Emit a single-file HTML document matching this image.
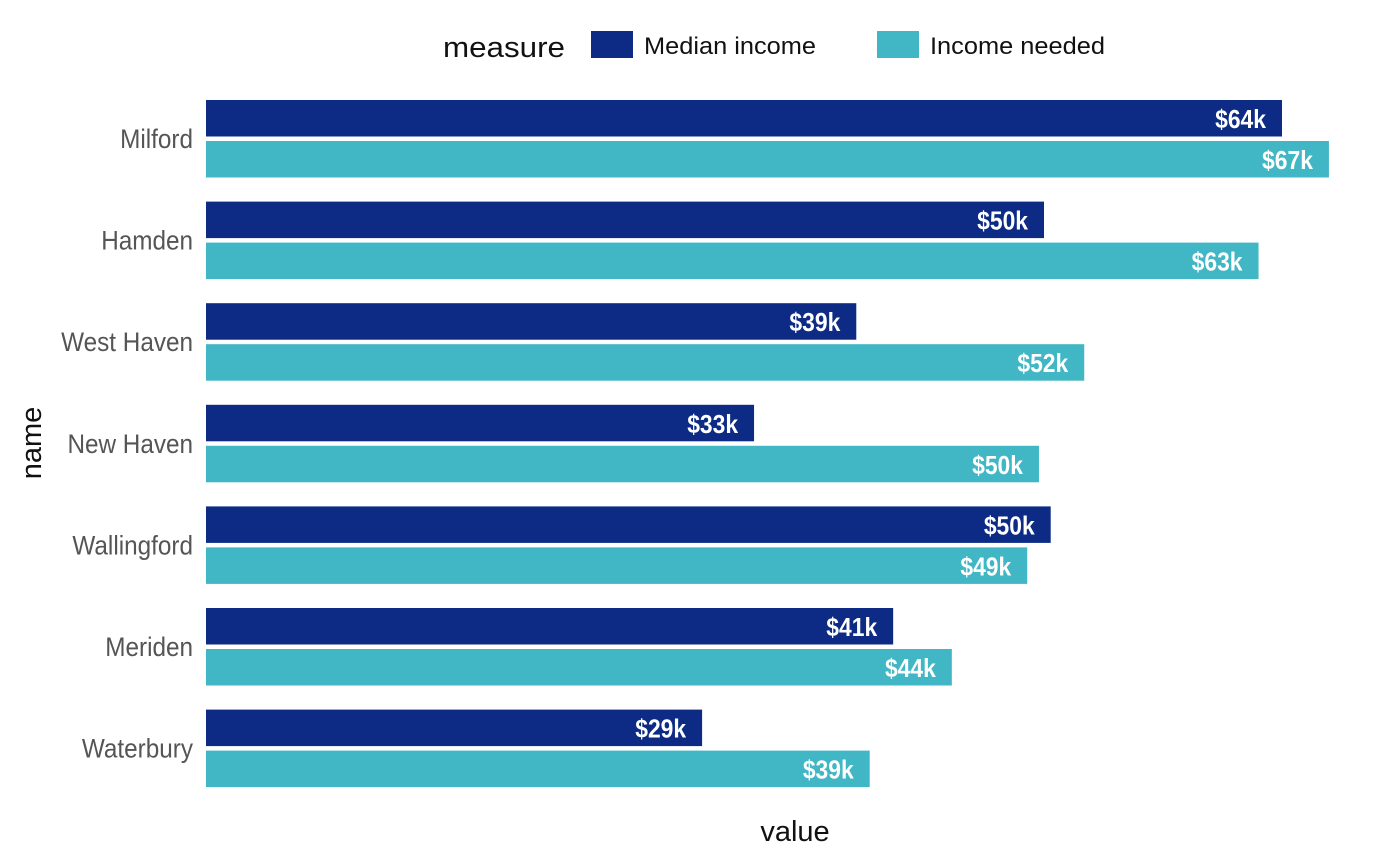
<!DOCTYPE html>
<html><head><meta charset="utf-8"><style>
body{margin:0;background:#fff;}
svg{display:block;font-family:"Liberation Sans",sans-serif;}
</style></head><body>
<svg id="chart" width="1400" height="865">
<g>
<text x="443" y="57" font-size="29" fill="#111" textLength="122" lengthAdjust="spacingAndGlyphs">measure</text>
<rect x="591" y="31" width="42" height="27" fill="#0d2b85"/>
<text x="644" y="54" font-size="24" fill="#111" textLength="172" lengthAdjust="spacingAndGlyphs">Median income</text>
<rect x="877" y="31" width="42" height="27" fill="#41b6c4"/>
<text x="930" y="54" font-size="24" fill="#111" textLength="175" lengthAdjust="spacingAndGlyphs">Income needed</text>
</g>
<text x="795" y="841" font-size="29" fill="#111" text-anchor="middle">value</text>
<text transform="translate(41,443) rotate(-90)" font-size="29" fill="#111" text-anchor="middle">name</text>
<g id="bars"></g>
</svg>
<script>
const categories=["Milford","Hamden","West Haven","New Haven","Wallingford","Meriden","Waterbury"];
const medianIncome=[64.2,50.0,38.8,32.7,50.4,41.0,29.6];
const incomeNeeded=[67.0,62.8,52.4,49.7,49.0,44.5,39.6];
const medianLabels=["$64k","$50k","$39k","$33k","$50k","$41k","$29k"];
const neededLabels=["$67k","$63k","$52k","$50k","$49k","$44k","$39k"];
const x0=206, kx=16.76;
const xs=v=>x0+v*kx;
const rowY=i=>100+i*101.6;
const g=document.getElementById('bars');
const NS="http://www.w3.org/2000/svg";
function mk(t,a){const e=document.createElementNS(NS,t);for(const k in a)e.setAttribute(k,a[k]);return e;}
categories.forEach((c,i)=>{
  const y=rowY(i);
  const lab=mk('text',{x:0,y:0,'font-size':27,fill:'#555','text-anchor':'end',transform:`translate(193,${y+48}) scale(0.9,1)`});
  lab.textContent=c;
  
  
  g.appendChild(lab);
  [[medianIncome,medianLabels,'#0d2b85',0,'bar-median'],[incomeNeeded,neededLabels,'#41b6c4',41,'bar-needed']].forEach(([vals,labs,col,off,nm])=>{
    const r=mk('rect',{x:x0,y:y+off,width:xs(vals[i])-x0,height:36.5,fill:col});
    
    
    g.appendChild(r);
    const t=mk('text',{x:0,y:0,'font-size':26,'font-weight':'bold',fill:'#fff','text-anchor':'end',transform:`translate(${xs(vals[i])-16},${y+off+28}) scale(0.88,1)`});
    t.textContent=labs[i];
    
    
    g.appendChild(t);
  });
});
</script>
</body></html>
